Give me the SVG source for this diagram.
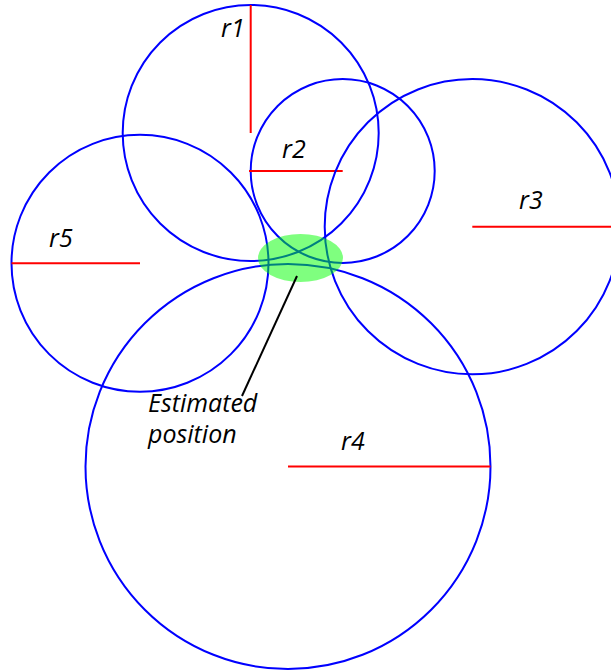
<svg xmlns="http://www.w3.org/2000/svg" width="611" height="670" viewBox="0 0 611 670">
<style>
.c{fill:none;stroke:#0000ff;stroke-width:2}
.r{stroke:#ff0000;stroke-width:2}
.t{font-family:"Open Sans","Noto Sans",sans-serif;font-style:italic;font-size:25px;fill:#000}
</style>
<rect width="611" height="670" fill="#fff"/>
<g id="c1"><circle class="c" cx="250.7" cy="133" r="128"/><line class="r" x1="250.7" y1="5" x2="250.7" y2="133"/><text class="t" x="221" y="37">r1</text></g>
<g id="c2"><circle class="c" cx="342.7" cy="171" r="92"/><line class="r" x1="249" y1="171" x2="342.7" y2="171"/><text class="t" x="282" y="158">r2</text></g>
<g id="c3"><circle class="c" cx="472.3" cy="226.7" r="147.6"/><line class="r" x1="472.3" y1="226.7" x2="611" y2="226.7"/><text class="t" x="519" y="209">r3</text></g>
<g id="c4"><circle class="c" cx="288" cy="466.5" r="202.5"/><line class="r" x1="288" y1="466.5" x2="490.5" y2="466.5"/><text class="t" x="341" y="450">r4</text></g>
<g id="c5"><circle class="c" cx="140" cy="263.3" r="128.5"/><line class="r" x1="11.5" y1="263.3" x2="140" y2="263.3"/><text class="t" x="49" y="247">r5</text></g>
<g id="est"><ellipse cx="300.5" cy="258" rx="42.5" ry="24" fill="#00ff00" fill-opacity="0.5"/></g>
<g id="connectors"><line x1="297" y1="276" x2="242" y2="396" stroke="#000" stroke-width="2"/></g>
<g id="label"><text class="t" x="148" y="412">Estimated</text><text class="t" x="148" y="443">position</text></g>
</svg>
